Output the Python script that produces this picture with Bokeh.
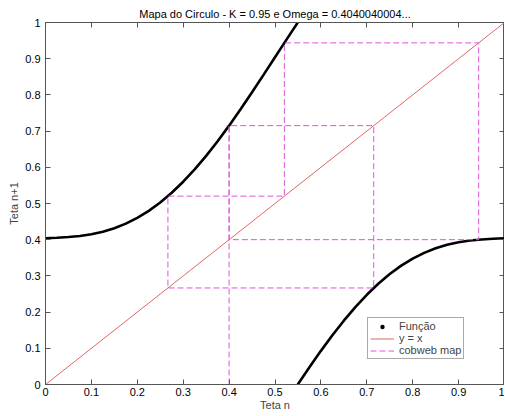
from bokeh.plotting import figure
from bokeh.models import LinearAxis, FixedTicker, Legend, LegendItem
from bokeh.embed import file_html
from bokeh.resources import INLINE

# Circle map curve, two branches
curve1_x = [0.0, 0.025, 0.05, 0.075, 0.1, 0.125, 0.15, 0.175, 0.2, 0.225, 0.25,
            0.275, 0.3, 0.325, 0.35, 0.375, 0.4, 0.425, 0.45, 0.475, 0.5, 0.525, 0.5496]
curve1_y = [0.4040, 0.4054, 0.4073, 0.4104, 0.4151, 0.4221, 0.4317, 0.4443, 0.4602,
            0.4797, 0.5028, 0.5297, 0.5602, 0.5943, 0.6317, 0.6721, 0.7151, 0.7604,
            0.8073, 0.8554, 0.9040, 0.9527, 1.0]
curve2_x = [0.5496, 0.575, 0.6, 0.625, 0.65, 0.675, 0.7, 0.725, 0.75, 0.775, 0.8,
            0.825, 0.85, 0.875, 0.9, 0.925, 0.95, 0.975, 1.0]
curve2_y = [0.0, 0.0477, 0.0929, 0.1359, 0.1763, 0.2137, 0.2478, 0.2783, 0.3052,
            0.3283, 0.3478, 0.3637, 0.3763, 0.3859, 0.3929, 0.3976, 0.4007, 0.4027, 0.4040]

# identity line
diag_x = [0.0, 1.0]
diag_y = [0.0, 1.0]

# cobweb path
cobweb_x = [0.4, 0.4, 0.7151, 0.7151, 0.2667, 0.2667, 0.5204, 0.5204, 0.9437, 0.9437, 0.4001, 0.4001]
cobweb_y = [0.0, 0.7151, 0.7151, 0.2667, 0.2667, 0.5204, 0.5204, 0.9437, 0.9437, 0.4001, 0.4001, 0.7152]

ticks = [0, 0.1, 0.2, 0.3, 0.4, 0.5, 0.6, 0.7, 0.8, 0.9, 1]
tick_labels = {0: "0", 0.1: "0.1", 0.2: "0.2", 0.3: "0.3", 0.4: "0.4", 0.5: "0.5",
               0.6: "0.6", 0.7: "0.7", 0.8: "0.8", 0.9: "0.9", 1: "1"}

TITLE = "Mapa do Circulo - K = 0.95 e Omega = 0.4040040004..."
FONT = "Liberation Sans"

p = figure(frame_width=459, frame_height=362, x_range=(0, 1), y_range=(0, 1),
           output_backend="svg", toolbar_location=None,
           min_border_left=45, min_border_right=0, min_border_top=22, min_border_bottom=32)

p.xgrid.visible = False
p.ygrid.visible = False
p.outline_line_color = "#555555"
p.background_fill_color = "white"
p.border_fill_color = "white"

for ax in (p.xaxis[0], p.yaxis[0]):
    ax.ticker = FixedTicker(ticks=ticks)
    ax.major_label_overrides = tick_labels
    ax.major_tick_in = 5
    ax.major_tick_out = 0
    ax.minor_tick_line_color = None
    ax.axis_line_color = "#555555"
    ax.major_tick_line_color = "#555555"
    ax.major_label_text_font = FONT
    ax.major_label_text_font_size = "11px"
    ax.major_label_text_color = "black"
    ax.axis_label_text_font = FONT
    ax.axis_label_text_font_size = "11px"
    ax.axis_label_text_font_style = "normal"

p.xaxis.axis_label = "Teta n"
p.yaxis.axis_label = "Teta n+1"
p.xaxis.major_label_standoff = 3
p.xaxis.axis_label_standoff = 0
p.yaxis.major_label_standoff = 5
p.yaxis.axis_label_standoff = 2

for side in ("above", "right"):
    a = LinearAxis(ticker=FixedTicker(ticks=ticks), major_tick_in=5, major_tick_out=0,
                   minor_tick_line_color=None, major_label_text_font_size="0px",
                   major_label_standoff=0, axis_label_standoff=0,
                   major_label_overrides={t: "" for t in ticks},
                   major_label_text_color=None, axis_line_color="#555555",
                   major_tick_line_color="#555555")
    if side == "above":
        a.axis_label = TITLE
        a.axis_label_standoff = 3
        a.axis_label_text_font = FONT
        a.axis_label_text_font_size = "11px"
        a.axis_label_text_font_style = "normal"
        a.axis_label_text_color = "black"
    p.add_layout(a, side)

# curve
p.line(curve1_x, curve1_y, line_color="black", line_width=2.6)
p.line(curve2_x, curve2_y, line_color="black", line_width=2.6)
dots = p.scatter(curve1_x + curve2_x, curve1_y + curve2_y, size=1.2,
                 fill_color="black", line_color=None)

diag = p.line(diag_x, diag_y, line_color="#e06666", line_width=1)
cob = p.line(cobweb_x, cobweb_y, line_color="#dd55dd", line_width=1, line_dash="6 3")

legend = Legend(items=[LegendItem(label="Função", renderers=[dots]),
                       LegendItem(label="y = x", renderers=[diag]),
                       LegendItem(label="cobweb map", renderers=[cob])],
                location=(322, 25))
legend.label_text_font = FONT
legend.label_text_font_size = "11px"
legend.label_height = 11
legend.glyph_height = 11
legend.glyph_width = 24
legend.label_standoff = 5
legend.spacing = 0
legend.padding = 2
legend.margin = 0
legend.border_line_color = "#555555"
legend.background_fill_alpha = 1
p.add_layout(legend, "center")

open("out.html", "w").write(file_html(p, INLINE))
